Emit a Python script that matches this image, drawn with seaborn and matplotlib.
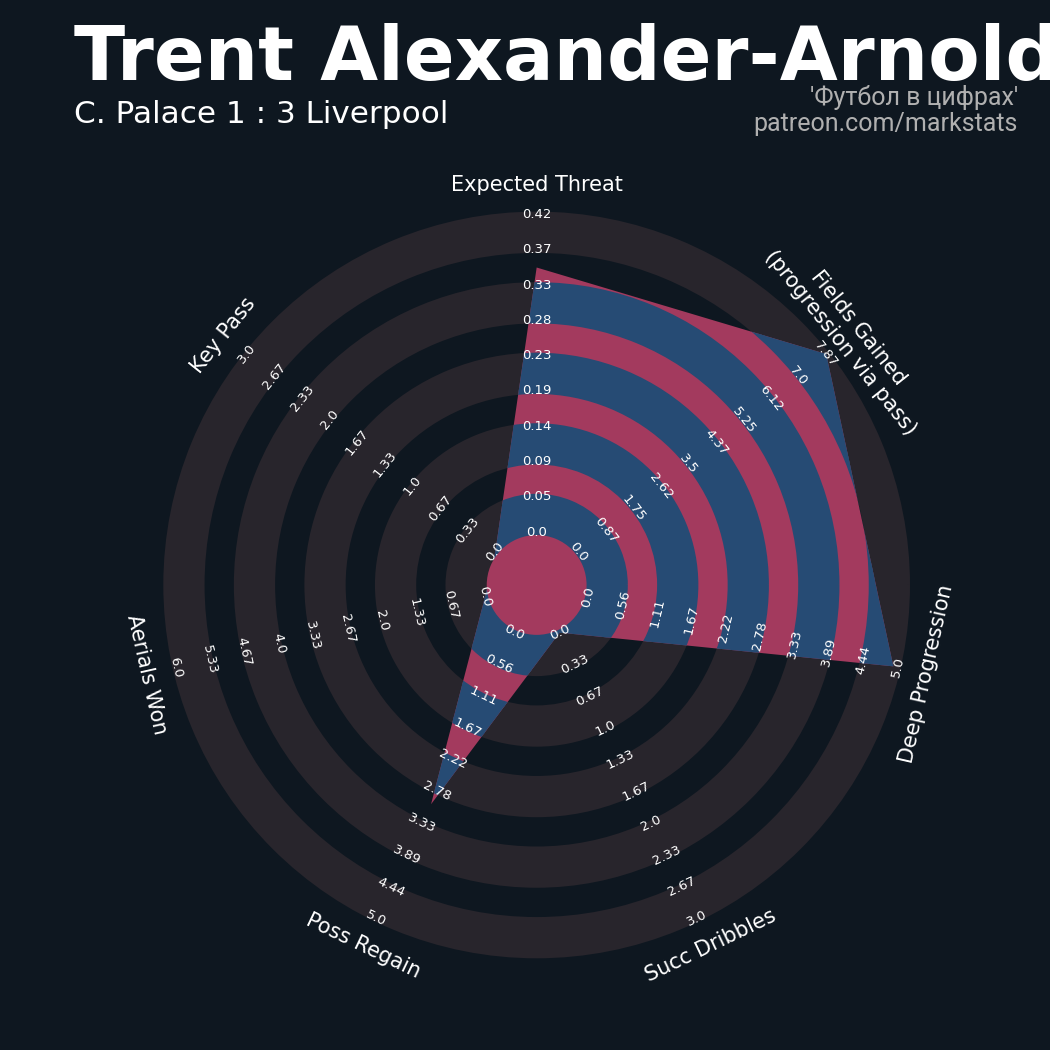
import numpy as np
import matplotlib
matplotlib.use('Agg')
import matplotlib.pyplot as plt
from matplotlib.patches import Wedge, Circle, Polygon
import seaborn as sns

# radar data
params = ['Expected Threat', 'Fields Gained\n(progression via pass)', 'Deep Progression',
          'Succ Dribbles', 'Poss Regain', 'Aerials Won', 'Key Pass']
low = [0, 0, 0, 0, 0, 0, 0]
high = [0.42, 7.87, 5.0, 3.0, 5.0, 6.0, 3.0]
values = [0.35, 7.87, 4.93, 0.0, 3.0, 0.0, 0.0]

title = 'Trent Alexander-Arnold'
subtitle = 'C. Palace 1 : 3 Liverpool'
credit = ["'Футбол в цифрах'", 'patreon.com/markstats']

bg = '#0e1720'
ring_col = '#28252c'
blue = '#264b74'
pink = '#a33a5e'

num_rings = 9
ring_w = 1.0
center_r = 1.5

sns.set_theme(style='dark', rc={'axes.facecolor': bg, 'figure.facecolor': bg})
plt.rcParams['font.family'] = ['DejaVu Sans']

fig = plt.figure(figsize=(10.5, 10.5), dpi=100)
fig.patch.set_facecolor(bg)
ax = fig.add_axes([0.0912, 0.0230, 0.8398, 0.8398])
ax.set_xlim(-12.5, 12.5)
ax.set_ylim(-12.5, 12.5)
ax.set_aspect('equal')
ax.axis('off')

n = len(params)
angles = np.deg2rad(90 - 360 / n * np.arange(n))
edge_lw = 4.3

# rings
ax.add_patch(Circle((0, 0), center_r, facecolor=pink, edgecolor='none', zorder=1))
ring_outer = [center_r + ring_w * (k + 1) for k in range(0, num_rings, 2)]
for r in ring_outer:
    ax.add_patch(Wedge((0, 0), r, 0, 360, width=ring_w, facecolor=ring_col,
                       edgecolor=ring_col, lw=edge_lw, zorder=2))

# radar polygon
radius = np.array([center_r + (v - lo) / (hi - lo) * num_rings * ring_w
                   for v, lo, hi in zip(values, low, high)])
verts = np.column_stack([radius * np.cos(angles), radius * np.sin(angles)])
poly = Polygon(verts, closed=True, facecolor=pink, edgecolor='none', zorder=3)
ax.add_patch(poly)
for r in ring_outer:
    w = Wedge((0, 0), r, 0, 360, width=ring_w, facecolor=blue,
              edgecolor=blue, lw=edge_lw, zorder=4)
    ax.add_patch(w)
    w.set_clip_path(poly)


def text_rot(theta):
    rot = np.rad2deg(theta) - 90
    rot = (rot + 180) % 360 - 180
    if rot < -90:
        rot += 180
    elif rot > 90:
        rot -= 180
    return rot


# range labels
for i in range(n):
    rot = text_rot(angles[i])
    labels = np.linspace(low[i], high[i], num_rings + 1)
    for k, lab in enumerate(labels):
        r = center_r + k * ring_w
        ax.text(r * np.cos(angles[i]), r * np.sin(angles[i]), str(round(lab, 2)),
                rotation=rot, rotation_mode='anchor', ha='center', va='center',
                fontsize=9.5, color='white', zorder=6)

# param labels
for i in range(n):
    r = 11.35
    ax.text(r * np.cos(angles[i]), r * np.sin(angles[i]), params[i],
            rotation=text_rot(angles[i]), rotation_mode='anchor', ha='center', va='center',
            fontsize=15, color='white', zorder=6, clip_on=False)

fig.text(74 / 1050, 1 - 80 / 1050, title, fontsize=54, fontweight='bold', color='white',
         ha='left', va='baseline')
fig.text(74 / 1050, 1 - 123 / 1050, subtitle, fontsize=22.4, color='white',
         ha='left', va='baseline')
fig.text(1018 / 1050, 1 - 105 / 1050, credit[0], fontsize=18, color='#b0b0b0',
         family='Roboto', ha='right', va='baseline')
fig.text(1018 / 1050, 1 - 131 / 1050, credit[1], fontsize=18, color='#b0b0b0',
         family='Roboto', ha='right', va='baseline')

fig.savefig('out.png', dpi=100, facecolor=bg)
